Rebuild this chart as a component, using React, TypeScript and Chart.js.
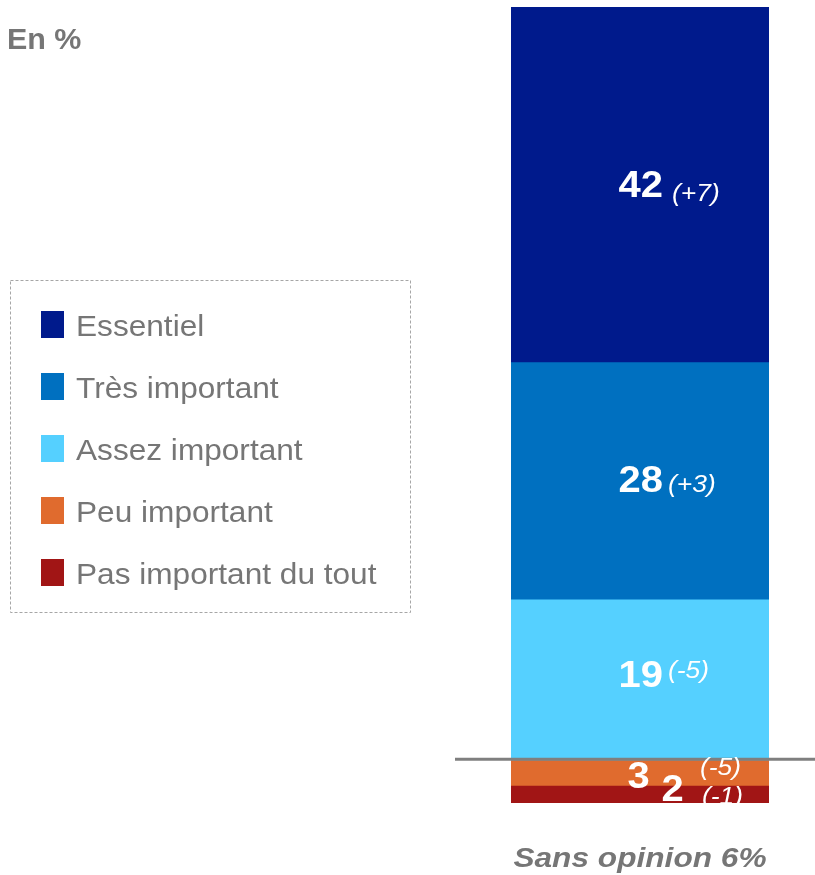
import React, { useEffect, useRef } from "react";
import { Chart, registerables } from "chart.js";

Chart.register(...registerables);

const categories = ["Essentiel", "Très important", "Assez important", "Peu important", "Pas important du tout"];
const values = [42, 28, 19, 3, 2];
const changes = ["(+7)", "(+3)", "(-5)", "(-5)", "(-1)"];
const sansOpinion = 6;
const barLabel = ["Total"];
const unitLabel = "En %";
const thresholdValue = 5;

const colors = ["#001A8C", "#0070C0", "#55D0FF", "#E06B2E", "#A11515"];
const GRAY = "#767676";
const FONT = "'Liberation Sans', Arial, sans-serif";

// per-label placement offsets relative to segment centre (style only)
const labelStyle = [
  { nx: 23, ny: 12, nAlign: "right", cx: 32, cy: 16 },
  { nx: 23, ny: 11, nAlign: "right", cx: 28, cy: 11 },
  { nx: 23, ny: 7, nAlign: "right", cx: 28, cy: -2 },
  { nx: -1.5, ny: 15, nAlign: "center", cx: 60, cy: 2 },
  { nx: 32.5, ny: 6, nAlign: "center", cx: 62, cy: 9 },
];

function txt(
  ctx: CanvasRenderingContext2D,
  s: string,
  x: number,
  y: number,
  font: string,
  color: string,
  align: CanvasTextAlign,
  sx: number
) {
  ctx.save();
  ctx.translate(x, y);
  ctx.scale(sx, 1);
  ctx.font = font;
  ctx.fillStyle = color;
  ctx.textAlign = align;
  ctx.textBaseline = "alphabetic";
  ctx.fillText(s, 0, 0);
  ctx.restore();
}

export default function App() {
  const ref = useRef<HTMLCanvasElement | null>(null);

  useEffect(() => {
    if (!ref.current) return;
    const n = values.length;
    const order = values.map((_, i) => n - 1 - i);
    const datasets = order.map((i) => ({
      label: categories[i],
      data: [values[i]],
      backgroundColor: colors[i],
      borderWidth: 0,
      barPercentage: 1,
      categoryPercentage: 1,
    }));

    const decor = {
      id: "decor",
      afterDatasetsDraw(chart: any) {
        const ctx: CanvasRenderingContext2D = chart.ctx;
        const ys = chart.scales.y;
        const area = chart.chartArea;
        // threshold line
        const ly = ys.getPixelForValue(thresholdValue) - 1.5;
        ctx.save();
        ctx.strokeStyle = "#7F7F7F";
        ctx.lineWidth = 3;
        ctx.beginPath();
        ctx.moveTo(455, ly);
        ctx.lineTo(chart.width, ly);
        ctx.stroke();
        ctx.restore();

        // labels
        order.forEach((catIdx, dsIdx) => {
          const el = chart.getDatasetMeta(dsIdx).data[0];
          const mid = (el.y + el.base) / 2;
          const st = labelStyle[catIdx];
          ctx.save();
          ctx.beginPath();
          ctx.rect(area.left, area.top, area.right - area.left, area.bottom - area.top + 1);
          ctx.clip();
          txt(ctx, String(values[catIdx]), el.x + st.nx, mid + st.ny, `bold 37px ${FONT}`, "#FFFFFF", st.nAlign as CanvasTextAlign, 1.08);
          txt(ctx, changes[catIdx], el.x + st.cx, mid + st.cy, `italic 24px ${FONT}`, "#FFFFFF", "left", 1.1);
          ctx.restore();
        });

        // sans opinion
        const cx = (area.left + area.right) / 2;
        txt(ctx, `Sans opinion ${sansOpinion}%`, cx, 867, `italic bold 28px ${FONT}`, GRAY, "center", 1.13);

        // unit
        txt(ctx, unitLabel, 7, 49, `bold 29px ${FONT}`, GRAY, "left", 1.05);

        // legend
        ctx.save();
        ctx.strokeStyle = "#A6A6A6";
        ctx.lineWidth = 1;
        ctx.setLineDash([3, 2]);
        ctx.strokeRect(10.5, 280.5, 400, 332);
        ctx.restore();
        categories.forEach((c, i) => {
          const base = 336 + i * 62;
          ctx.fillStyle = colors[i];
          ctx.fillRect(41, base - 25, 23, 27);
          txt(ctx, c, 76, base, `29px ${FONT}`, GRAY, "left", 1.09);
        });
      },
    };

    const chart = new Chart(ref.current, {
      type: "bar",
      data: { labels: barLabel, datasets },
      options: {
        animation: false,
        responsive: false,
        layout: { padding: { left: 511, right: 46, top: 7, bottom: 72 } },
        scales: {
          x: { display: false, stacked: true },
          y: { display: false, stacked: true, min: 0, max: values.reduce((a, b) => a + b, 0) },
        },
        plugins: { legend: { display: false }, tooltip: { enabled: false } },
      },
      plugins: [decor],
    });
    return () => chart.destroy();
  }, []);

  return (
    <div style={{ position: "absolute", left: 0, top: 0, width: 815, height: 875, background: "#fff" }}>
      <canvas ref={ref} width={815} height={875} style={{ width: 815, height: 875, display: "block" }} />
    </div>
  );
}
